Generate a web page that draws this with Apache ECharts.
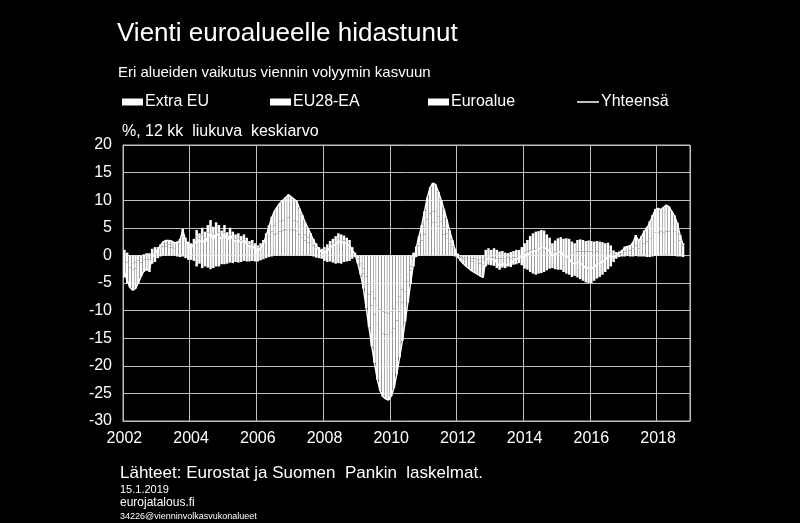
<!DOCTYPE html>
<html><head><meta charset="utf-8">
<script src="https://cdn.jsdelivr.net/npm/echarts@6/dist/echarts.min.js"></script>
<style>html,body{margin:0;padding:0;background:#000}#c{width:800px;height:523px}</style>
</head><body><div id="c"></div>
<script>
// Monthly data, 2002-01 ... 2018-10 (12 kk liukuva keskiarvo, %-yks.); axis runs to 2018-12
const startYear = 2002;
const endYear = 2018;
const yearLabels = ['2002', '2004', '2006', '2008', '2010', '2012', '2014', '2016', '2018'];
const yTicks = [20, 15, 10, 5, 0, -5, -10, -15, -20, -25, -30];

const extraEU = [
  1.0, 0.5, -1.0, -1.4, -1.3, -0.9, -0.5, 0.2, 0.4, 0.4, 1.2, 1.5,
  1.2, 1.5, 1.6, 1.6, 1.5, 1.4, 1.3, 1.7, 2.1, 3.4, 2.4, 1.9,
  1.7, 2.3, 3.5, 3.0, 3.8, 3.3, 4.2, 4.9, 4.0, 4.6, 4.2, 3.4,
  4.2, 3.2, 3.8, 3.3, 2.9, 3.0, 2.7, 2.9, 2.4, 2.0, 2.1, 1.7,
  1.4, 1.6, 2.0, 2.8, 3.5, 4.3, 3.8, 4.0, 4.3, 4.5, 4.7, 4.9,
  4.7, 4.5, 4.4, 3.8, 3.3, 2.7, 2.3, 2.4, 1.8, 1.4, 1.0, 0.8,
  1.1, 1.5, 1.9, 2.2, 2.6, 3.0, 2.8, 2.7, 2.4, 2.1, 1.1, 0.4,
  -0.6, -1.4, -2.4, -3.8, -5.2, -6.6, -7.8, -9.0, -9.8, -10.2, -10.4, -10.5,
  -10.2, -9.6, -8.6, -7.4, -6.2, -4.8, -3.4, -2.0, 0.5, 1.6, 1.8, 2.7,
  3.8, 4.9, 5.7, 6.0, 5.9, 5.3, 4.6, 3.8, 3.0, 2.1, 1.6, 0.8,
  0.3, -0.2, -0.3, -0.4, -0.5, -0.6, -0.6, -0.7, -0.8, -0.8, 1.0, 1.3,
  1.0, 1.3, 1.0, 0.7, 0.8, 0.5, 0.4, 0.6, 0.8, 1.0, 1.0, 1.5,
  -2.4, -2.6, -3.0, -3.3, -3.5, -3.3, -3.2, -3.0, -2.7, -2.4, -2.3, -2.5,
  -2.6, -2.6, -3.0, -3.3, -3.5, -3.9, -3.7, -4.0, -4.3, -4.6, -4.9, -5.0,
  -5.0, -4.6, -4.2, -3.9, -3.5, -3.0, -2.5, -2.0, -1.2, -0.6, -0.3, -0.2,
  0.7, 0.8, 0.9, 1.2, 1.8, 1.3, 1.7, 2.2, 2.5, 3.0, 3.5, 4.1,
  4.2, 3.9, 4.1, 4.3, 4.3, 4.6, 4.4, 3.9, 2.7, 1.8
];
const eu28ea = [
  -1.0, -1.3, -1.2, -1.2, -1.1, -1.0, -0.8, -0.8, -0.7, -0.7, -0.4, -0.3,
  0.3, 0.5, 0.5, 0.5, 0.5, 0.5, 0.4, 0.8, 0.9, 1.4, 0.8, 0.6,
  0.5, 0.7, 1.1, 1.0, 1.2, 1.0, 1.3, 1.5, 1.2, 1.4, 1.3, 1.1,
  1.3, 1.0, 1.2, 1.0, 0.9, 1.0, 0.8, 0.9, 0.8, 0.6, 0.7, 0.5,
  0.4, 0.6, 0.8, 1.2, 2.0, 2.7, 1.6, 1.7, 1.8, 1.8, 1.9, 2.0,
  1.9, 1.8, 1.7, 1.5, 1.3, 1.1, 0.9, -0.1, -0.2, -0.4, -0.5, -0.6,
  -1.0, -1.2, -1.1, -1.3, -1.5, -1.4, -1.5, -1.2, -1.1, -1.0, -0.6, -0.3,
  -0.2, -0.5, -0.9, -1.4, -1.9, -2.5, -2.9, -3.4, -3.7, -3.9, -3.9, -3.9,
  -3.8, -3.6, -3.2, -2.8, -2.3, -1.8, -1.3, -0.7, -0.6, -0.1, 0.5, 0.8,
  1.2, 1.6, 1.9, 2.0, 2.0, 1.8, 1.5, 1.3, 1.0, 0.7, -0.1, -0.2,
  -0.2, -0.2, -0.3, -0.4, -0.5, -0.5, -0.6, -0.7, -0.7, -0.8, -0.5, -0.4,
  -0.4, -0.4, -0.5, -0.6, -0.5, -0.5, -0.4, -0.5, -0.4, -0.4, -0.3, -0.4,
  0.5, 0.7, 0.9, 1.0, 1.1, 1.1, 1.2, 1.1, 1.0, 0.8, 0.6, 0.7,
  0.8, 0.8, 0.8, 0.8, 0.8, 0.6, 0.6, 0.7, 0.7, 0.7, 0.7, 0.7,
  0.7, 0.6, 0.7, 0.6, 0.6, 0.6, 0.6, 0.5, 0.2, 0.2, 0.2, 0.3,
  -0.2, -0.1, -0.2, -0.2, -0.1, -0.2, -0.2, -0.2, -0.3, -0.3, -0.2, -0.1,
  -0.1, 0.4, 0.5, 0.6, 0.6, -0.1, -0.1, -0.2, -0.2, -0.3
];
const euroalue = [
  -3.0, -3.7, -3.6, -3.7, -3.6, -3.1, -2.5, -2.2, -2.1, -2.3, -1.1, -0.9,
  -0.5, -0.2, 0.4, 0.6, 0.7, 0.7, 0.6, -0.2, -0.3, -0.2, -0.5, -0.8,
  -0.8, -1.0, -2.0, -1.5, -2.3, -2.0, -2.2, -2.5, -2.3, -2.0, -2.0, -1.6,
  -1.6, -1.5, -1.3, -1.4, -1.2, -1.3, -1.2, -1.0, -1.1, -1.1, -1.0, -1.1,
  -1.1, -0.9, -0.7, -0.5, -0.3, -0.2, 2.6, 3.1, 3.4, 3.7, 3.9, 4.1,
  4.0, 3.9, 3.7, 3.2, 2.7, 2.2, 1.8, 1.6, 1.2, 0.8, 0.5, 0.4,
  0.4, 0.5, 0.7, 0.8, 0.9, 1.0, 1.0, 0.9, 0.8, 0.7, 0.4, 0.1,
  -0.7, -1.6, -2.7, -4.3, -5.9, -7.4, -8.8, -10.1, -11.0, -11.5, -11.7, -11.8,
  -11.5, -10.8, -9.7, -8.3, -7.0, -5.4, -3.8, -2.3, -1.4, -0.2, 1.2, 2.0,
  3.0, 4.0, 4.7, 5.1, 4.9, 4.4, 3.9, 3.2, 2.5, 1.7, 1.2, 0.4,
  -0.3, -0.6, -0.9, -1.2, -1.4, -1.7, -1.9, -2.0, -2.2, -2.4, -1.5, -1.3,
  -1.4, -1.5, -1.8, -2.0, -1.7, -1.8, -1.6, -1.6, -1.3, -1.2, -1.1, -1.4,
  1.7, 2.1, 2.6, 3.0, 3.2, 3.3, 3.4, 3.4, 2.8, 2.4, 1.6, 2.0,
  2.3, 2.5, 2.2, 2.3, 2.2, 1.9, 1.6, 2.1, 2.2, 2.1, 1.9, 2.0,
  1.9, 1.9, 1.9, 1.9, 1.8, 1.6, 1.7, 1.3, 0.7, 0.4, 0.5, 0.7,
  0.9, 0.9, 1.0, 1.3, 1.9, 1.5, 1.8, 2.3, 2.7, 3.2, 3.8, 4.3,
  4.4, 4.0, 4.1, 4.2, 3.9, 3.4, 2.8, 2.0, 1.0, 0.4
];
const yhteensa = [
  -3.0, -4.5, -5.8, -6.3, -6.0, -5.0, -3.8, -2.8, -2.4, -2.6, -0.3, 0.3,
  1.0, 1.8, 2.5, 2.7, 2.7, 2.6, 2.3, 2.3, 2.7, 4.6, 2.7, 1.7,
  1.4, 2.0, 2.6, 2.5, 2.7, 2.3, 3.3, 3.9, 2.9, 4.0, 3.5, 2.9,
  3.9, 2.7, 3.7, 2.9, 2.6, 2.7, 2.3, 2.8, 2.1, 1.5, 1.8, 1.1,
  0.7, 1.3, 2.1, 3.5, 5.2, 6.8, 8.0, 8.8, 9.5, 10.0, 10.5, 11.0,
  10.6, 10.2, 9.8, 8.5, 7.3, 6.0, 5.0, 3.9, 2.8, 1.8, 1.0, 0.6,
  0.5, 0.8, 1.5, 1.7, 2.0, 2.6, 2.3, 2.4, 2.1, 1.8, 0.9, 0.2,
  -1.5, -3.5, -6.0, -9.5, -13.0, -16.5, -19.5, -22.5, -24.5, -25.6, -26.0, -26.2,
  -25.5, -24.0, -21.5, -18.5, -15.5, -12.0, -8.5, -5.0, -1.5, 1.3, 3.5, 5.5,
  8.0, 10.5, 12.3, 13.1, 12.8, 11.5, 10.0, 8.3, 6.5, 4.5, 2.7, 1.0,
  -0.2, -1.0, -1.5, -2.0, -2.4, -2.8, -3.1, -3.4, -3.7, -4.0, -1.0, -0.4,
  -0.8, -0.6, -1.3, -1.9, -1.4, -1.8, -1.6, -1.5, -0.9, -0.6, -0.4, -0.3,
  -0.2, 0.2, 0.5, 0.7, 0.8, 1.1, 1.4, 1.5, 1.1, 0.8, -0.1, 0.2,
  0.5, 0.7, 0.0, -0.2, -0.5, -1.4, -1.5, -1.2, -1.4, -1.8, -2.3, -2.3,
  -2.4, -2.1, -1.6, -1.4, -1.1, -0.8, -0.2, -0.2, -0.3, 0.0, 0.4, 0.8,
  1.4, 1.6, 1.7, 2.3, 3.6, 2.6, 3.3, 4.3, 4.9, 5.9, 7.1, 8.3,
  8.5, 8.3, 8.7, 9.1, 8.8, 7.9, 7.1, 5.7, 3.5, 1.9
];

// month categories 2002-01 ... 2018-12
const months = [];
for (let y = startYear; y <= endYear; y++) {
  for (let m = 1; m <= 12; m++) months.push(y + '-' + (m < 10 ? '0' + m : m));
}
const isLabelMonth = (idx) => {
  const s = months[idx];
  return s && s.slice(5) === '01' && yearLabels.indexOf(s.slice(0, 4)) >= 0;
};

const FONT = '"Liberation Sans", Arial, sans-serif';
const GRID_C = '#bfbfbf';
const white = '#ffffff';

const barStyle = (name, data) => ({
  name, type: 'bar', stack: 'total', data: data,
  barWidth: '90%', itemStyle: { color: white }, silent: true
});

const chart = echarts.init(document.getElementById('c'), null, { renderer: 'canvas' });
chart.setOption({
  backgroundColor: '#000',
  animation: false,
  textStyle: { fontFamily: FONT, color: white },
  title: [
    { text: 'Vienti euroalueelle hidastunut', left: 117, top: 21, padding: 0,
      textStyle: { color: white, fontSize: 26, fontWeight: 'normal', fontFamily: FONT } },
    { text: 'Eri alueiden vaikutus viennin volyymin kasvuun', left: 118, top: 65, padding: 0,
      textStyle: { color: white, fontSize: 15, fontWeight: 'normal', fontFamily: FONT } },
    { text: '%, 12 kk  liukuva  keskiarvo', left: 122, top: 124, padding: 0,
      textStyle: { color: white, fontSize: 16, fontWeight: 'normal', fontFamily: FONT } },
    { text: 'Lähteet: Eurostat ja Suomen  Pankin  laskelmat.', left: 120, top: 465, padding: 0,
      textStyle: { color: white, fontSize: 17, fontWeight: 'normal', fontFamily: FONT } },
    { text: '15.1.2019', left: 120, top: 484, padding: 0,
      textStyle: { color: white, fontSize: 11, fontWeight: 'normal', fontFamily: FONT } },
    { text: 'eurojatalous.fi', left: 120, top: 497, padding: 0,
      textStyle: { color: white, fontSize: 12, fontWeight: 'normal', fontFamily: FONT } },
    { text: '34226@vienninvolkasvukonalueet', left: 120, top: 512, padding: 0,
      textStyle: { color: white, fontSize: 9, fontWeight: 'normal', fontFamily: FONT } }
  ],
  legend: [
    { data: ['Extra EU'], left: 122, top: 94, padding: 0, icon: 'rect', itemWidth: 21, itemHeight: 7,
      selectedMode: false, textStyle: { color: white, fontSize: 16, fontFamily: FONT, padding: [0, 0, 0, -3] } },
    { data: ['EU28-EA'], left: 270, top: 94, padding: 0, icon: 'rect', itemWidth: 21, itemHeight: 7,
      selectedMode: false, textStyle: { color: white, fontSize: 16, fontFamily: FONT, padding: [0, 0, 0, -3] } },
    { data: ['Euroalue'], left: 428, top: 94, padding: 0, icon: 'rect', itemWidth: 21, itemHeight: 7,
      selectedMode: false, textStyle: { color: white, fontSize: 16, fontFamily: FONT, padding: [0, 0, 0, -3] } },
    { data: ['Yhteensä'], left: 577, top: 94, padding: 0, icon: 'rect', itemWidth: 22, itemHeight: 1.5,
      selectedMode: false, textStyle: { color: white, fontSize: 16, fontFamily: FONT, padding: [0, 0, 0, -3] } }
  ],
  grid: { left: 123, right: 110, top: 145, bottom: 102, show: true, borderColor: GRID_C, borderWidth: 1, containLabel: false },
  xAxis: {
    type: 'category', data: months, boundaryGap: true,
    axisLine: { show: true, onZero: false, lineStyle: { color: GRID_C } },
    axisTick: { show: false },
    splitLine: { show: true, interval: (idx) => isLabelMonth(idx), lineStyle: { color: GRID_C, width: 1 } },
    axisLabel: {
      color: white, fontSize: 16, fontFamily: FONT, margin: 10,
      interval: (idx) => isLabelMonth(idx),
      formatter: (v) => v.slice(0, 4)
    }
  },
  yAxis: {
    type: 'value', min: -30, max: 20, interval: 5,
    axisLine: { show: true, onZero: false, lineStyle: { color: GRID_C } },
    axisTick: { show: false },
    splitLine: { show: true, lineStyle: { color: GRID_C, width: 1 } },
    axisLabel: { color: white, fontSize: 16, fontFamily: FONT, margin: 11,
      formatter: v => (yTicks.indexOf(v) >= 0 ? String(v) : '') }
  },
  series: [
    barStyle('Extra EU', extraEU),
    barStyle('EU28-EA', eu28ea),
    barStyle('Euroalue', euroalue),
    { name: 'Yhteensä', type: 'line', data: yhteensa, showSymbol: false, symbol: 'none',
      lineStyle: { color: white, width: 1.5 }, itemStyle: { color: white }, z: 10, silent: true }
  ]
});
</script></body></html>
